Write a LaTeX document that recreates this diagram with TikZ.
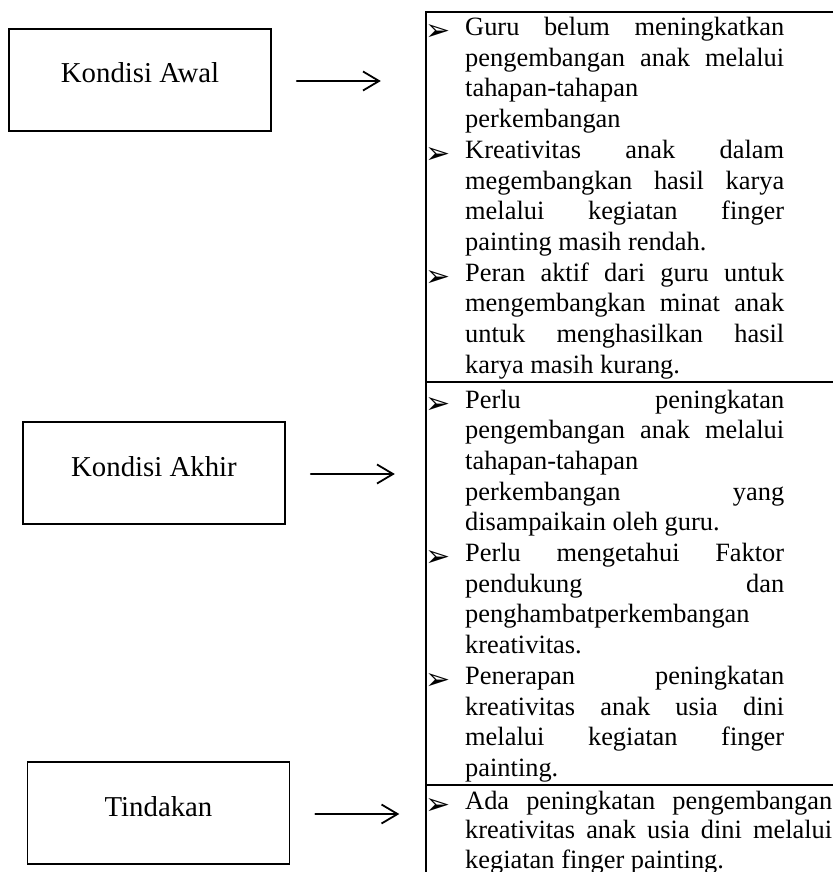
\documentclass[tikz,border=0pt]{standalone}
\usepackage{fontspec}
\setmainfont{Liberation Serif}
\newfontfamily\symfont{DejaVu Sans}
\usetikzlibrary{arrows.meta}
\newcommand{\jl}[1]{\makebox[\linewidth][s]{#1}}
\tikzset{
  boxnode/.style={draw, line width=1.6pt, minimum width=262pt, minimum height=102pt, inner sep=0pt,
    text height=12pt, text depth=6pt, font=\fontsize{28.8}{33}\selectfont},
  arr/.style={line width=1.8pt, line cap=round, -{Straight Barb[length=16pt,width=19pt,line width=1.8pt]}},
  tbl/.style={line width=1.6pt},
  txt/.style={inner sep=0pt, anchor=base west},
  bul/.style={inner sep=0pt, anchor=base, yshift=-6pt, font=\symfont\fontsize{30}{30}\selectfont},
}
\newcommand{\itm}[2]{\parbox[t]{#1}{\fontsize{26.4}{30.7}\selectfont #2}}
\newcommand{\itmb}[2]{\parbox[t]{#1}{\fontsize{26.4}{29.5}\selectfont #2}}
\begin{document}
\begin{tikzpicture}[x=1pt,y=-1pt]
\useasboundingbox (0,0) rectangle (833,872);
% left boxes
\node[boxnode] (b1) at (140,80) {Kondisi Awal};
\node[boxnode] (b2) at (154,473) {Kondisi Akhir};
\node[boxnode] (b3) at (158.5,813) {Tindakan};
% arrows
\draw[arr] ([xshift=25pt,yshift=-1pt]b1.east) -- ++(84,0);
\draw[arr] ([xshift=25pt,yshift=-1pt]b2.east) -- ++(84,0);
\draw[arr] ([xshift=25pt,yshift=-1pt]b3.east) -- ++(84,0);
% table lines
\draw[tbl] (833,12) -- (426,12) -- (426,872);
\draw[tbl] (426,382) -- (833,382);
\draw[tbl] (426,785) -- (833,785);
% row 1
\node[bul] (u11) at (438,34.5) {➢};
\node[txt] (t11) at (465,35.5) {\itm{319pt}{\jl{Guru belum meningkatkan}\\\jl{pengembangan anak melalui}\\tahapan-tahapan\\perkembangan}};
\node[bul] (u12) at (438,157.3) {➢};
\node[txt] (t12) at (465,158.3) {\itm{319pt}{\jl{Kreativitas anak dalam}\\\jl{megembangkan hasil karya}\\\jl{melalui kegiatan finger}\\painting masih rendah.}};
\node[bul] (u13) at (438,280.1) {➢};
\node[txt] (t13) at (465,281.1) {\itm{319pt}{\jl{Peran aktif dari guru untuk}\\\jl{mengembangkan minat anak}\\\jl{untuk menghasilkan hasil}\\karya masih kurang.}};
% row 2
\node[bul] (u21) at (438,407) {➢};
\node[txt] (t21) at (465,408) {\itm{319pt}{\jl{Perlu peningkatan}\\\jl{pengembangan anak melalui}\\tahapan-tahapan\\\jl{perkembangan yang}\\disampaikain oleh guru.}};
\node[bul] (u22) at (438,560.5) {➢};
\node[txt] (t22) at (465,561.5) {\itm{319pt}{\jl{Perlu mengetahui Faktor}\\\jl{pendukung dan}\\penghambatperkembangan\\kreativitas.}};
\node[bul] (u23) at (438,683.3) {➢};
\node[txt] (t23) at (465,684.3) {\itm{319pt}{\jl{Penerapan peningkatan}\\\jl{kreativitas anak usia dini}\\\jl{melalui kegiatan finger}\\painting.}};
% row 3
\node[bul] (u31) at (438,808) {➢};
\node[txt] (t31) at (465,809) {\itmb{367pt}{\jl{Ada peningkatan pengembangan}\\\jl{kreativitas anak usia dini melalui}\\kegiatan finger painting.}};
\end{tikzpicture}
\end{document}
